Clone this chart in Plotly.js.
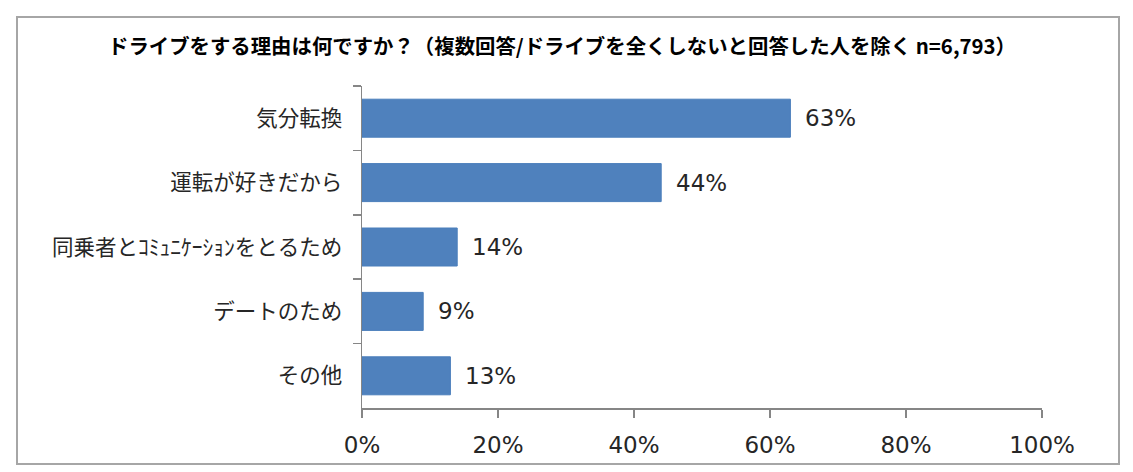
<!DOCTYPE html>
<html>
<head>
<meta charset="utf-8">
<script src="https://cdn.plot.ly/plotly-3.0.1.min.js"></script>
<style>
html,body{margin:0;padding:0;background:#fff;}
#chart{width:1133px;height:472px;}
</style>
</head>
<body>
<div id="chart"></div>
<script>
const categories = ["気分転換", "運転が好きだから", "同乗者とｺﾐｭﾆｹｰｼｮﾝをとるため", "デートのため", "その他"];
const values = [63, 44, 14, 9, 13];
const xTickVals = [0, 20, 40, 60, 80, 100];
const titleText = "ドライブをする理由は何ですか？（複数回答/ドライブを全くしないと回答した人を除く n=6,793）";

const W = 1133, H = 472;
const M = {l: 362, r: 91, t: 86, b: 64};
const pw = W - M.l - M.r, ph = H - M.t - M.b;
const box = {x0: 17, x1: 1119, y0: 17, y1: 464};

const trace = {
  type: "bar",
  orientation: "h",
  y: categories,
  x: values,
  width: 0.59,
  marker: {color: "#4F81BD", line: {color: "#4a7ebb", width: 1}},
  hoverinfo: "none"
};

const annotations = values.map((v, i) => ({
  x: v, y: categories[i], xref: "x", yref: "y",
  text: v + "%", showarrow: false, xanchor: "left", yanchor: "middle",
  xshift: 13,
  font: {family: "DejaVu Sans, Verdana, sans-serif", size: 23, color: "#262626"}
}));

const layout = {
  width: W, height: H,
  margin: M,
  paper_bgcolor: "#fff", plot_bgcolor: "#fff",
  showlegend: false,
  title: {
    text: "<b>" + titleText + "</b>",
    x: 562 / W, xref: "container", xanchor: "center",
    y: 1 - 47 / H, yref: "container", yanchor: "middle",
    font: {family: "Noto Sans CJK JP, sans-serif", size: 20.4, color: "#000"}
  },
  xaxis: {
    range: [0, 100], tickvals: xTickVals, ticktext: xTickVals.map(v => v + "%"),
    showgrid: false, zeroline: false, showline: true,
    linecolor: "#868686", linewidth: 1.5,
    ticks: "outside", ticklen: 8, tickcolor: "#868686", tickwidth: 1.5,
    ticklabelstandoff: 8,
    tickfont: {family: "DejaVu Sans, Verdana, sans-serif", size: 23, color: "#262626"},
    fixedrange: true
  },
  yaxis: {
    type: "category", autorange: false, range: [4.5, -0.5],
    showgrid: false, zeroline: false, showline: true,
    linecolor: "#868686", linewidth: 1.5,
    ticks: "outside", tickson: "boundaries", ticklen: 8, tickcolor: "#868686", tickwidth: 1.5,
    ticklabelstandoff: 14,
    tickfont: {family: "Noto Sans CJK JP, sans-serif", size: 21.5, color: "#262626"},
    fixedrange: true
  },
  annotations: annotations,
  shapes: [{
    type: "rect", xref: "paper", yref: "paper", layer: "below",
    x0: (box.x0 - M.l) / pw, x1: (box.x1 - M.l) / pw,
    y0: (H - M.b - box.y1) / ph, y1: (H - M.b - box.y0) / ph,
    line: {color: "#a6a6a6", width: 2}, fillcolor: "rgba(0,0,0,0)"
  }]
};

Plotly.newPlot("chart", [trace], layout, {displayModeBar: false, staticPlot: true});
</script>
</body>
</html>
